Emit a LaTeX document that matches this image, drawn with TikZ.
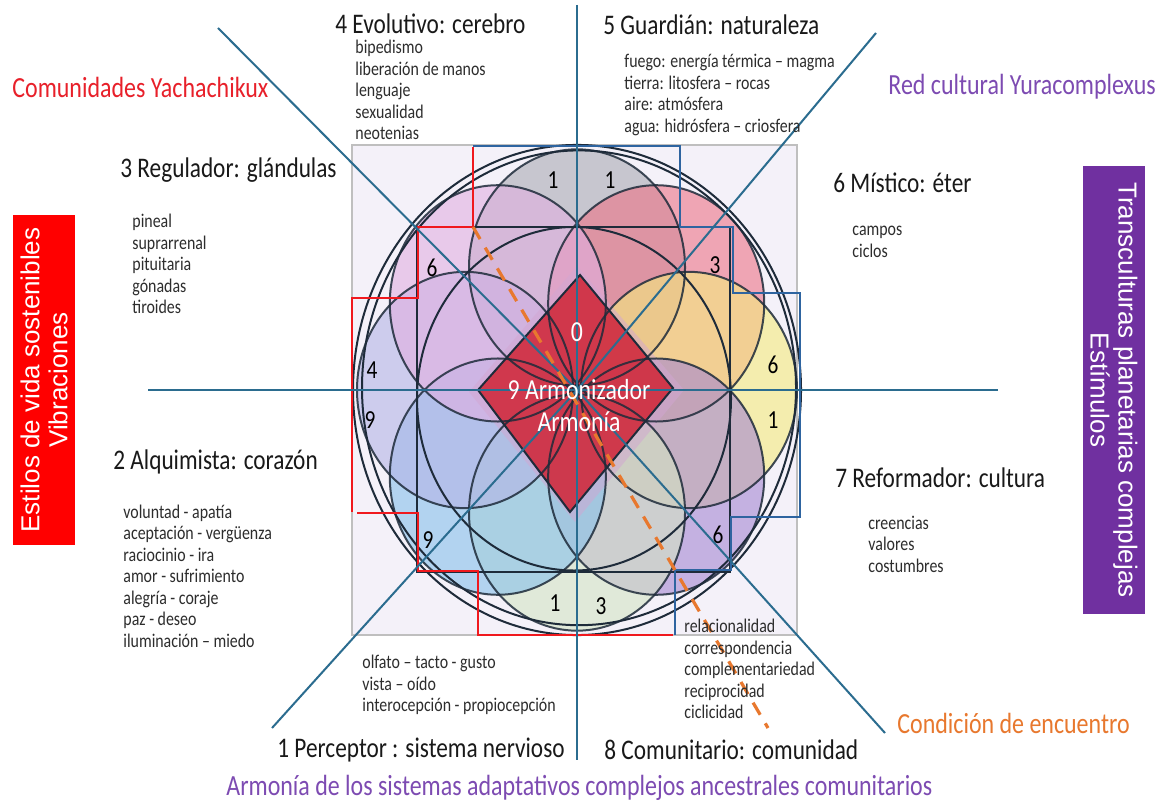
\documentclass[tikz,border=0pt]{standalone}
\usepackage{fontspec}
\setmainfont{Carlito}[FakeStretch=0.82]
\newfontfamily\boxfont{Liberation Sans}
\usepackage{xcolor}
\usepackage{tikz}
\usetikzlibrary{positioning, calc}
\definecolor{axiscolor}{RGB}{43,108,143}
\definecolor{ringcolor}{RGB}{30,43,58}
\definecolor{stairred}{RGB}{240,25,30}
\definecolor{stairblue}{RGB}{46,100,160}
\definecolor{labelred}{RGB}{232,32,42}
\definecolor{labelpurple}{RGB}{125,75,178}
\definecolor{boxpurple}{RGB}{112,48,160}
\definecolor{meetorange}{RGB}{232,120,46}
\definecolor{squarefill}{RGB}{244,241,249}
\definecolor{diamondred}{RGB}{208,40,58}
\definecolor{listgray}{RGB}{45,45,45}
\definecolor{petalN}{RGB}{170,170,180}
\definecolor{petalNE}{RGB}{236,115,135}
\definecolor{petalE}{RGB}{245,235,125}
\definecolor{petalSE}{RGB}{165,135,210}
\definecolor{petalS}{RGB}{212,228,196}
\definecolor{petalSW}{RGB}{135,192,235}
\definecolor{petalW}{RGB}{180,180,230}
\definecolor{petalNW}{RGB}{225,175,225}

\begin{document}
\begin{tikzpicture}[
        x=0.5pt, y=-0.5pt,
        title/.style={font=\fontsize{14.2}{16}\selectfont, text=black!90, anchor=west, inner sep=0pt},
        itemlist/.style={font=\fontsize{9.7}{10.75}\selectfont, text=listgray, align=left, anchor=west, inner sep=0pt},
        tag/.style={font=\fontsize{14.6}{16}\selectfont, anchor=west, inner sep=0pt},
        digit/.style={font=\fontsize{13}{15}\selectfont, inner sep=0pt},
        sidebox/.style={font=\boxfont\fontsize{13}{14}\selectfont, text=white, align=center, minimum height=31pt, inner sep=0pt},
        axis/.style={axiscolor, line width=1pt},
        ring/.style={ringcolor, line width=1pt}
    ]
        \useasboundingbox (0,0) rectangle (1159,801);
        \fill[white] (0,0) rectangle (1159,801);

        % Background square
        \filldraw[fill=squarefill, draw=black!25, line width=0.8pt] (352,145) rectangle (797,635);

        % Petals
        \begin{scope}[shift={(577,390)}, yscale=1.094]
            \foreach \ang/\col in {270/petalN, 315/petalNE, 0/petalE, 45/petalSE, 90/petalS, 135/petalSW, 180/petalW, 225/petalNW}
                \fill[\col, fill opacity=0.6] (\ang:112) circle (108);
        \end{scope}

        % Central diamond
        \fill[violet!35, fill opacity=0.5] (577,266) -- (684,390) -- (575,522) -- (469,392) -- cycle;
        \filldraw[fill=diamondred, fill opacity=0.88, draw=ringcolor, line width=1pt] (580,275) -- (673,388) -- (570,512) -- (478,390) -- cycle;

        % Ring outlines
        \begin{scope}[shift={(577,390)}, yscale=1.094]
            \foreach \ang in {0,45,...,315}
                \draw[ring, opacity=0.85] (\ang:112) circle (108);
            \draw[ring] (0,0) circle (224);
            \draw[ring] (2,-2) circle (217);
            \draw[ring] (-3,8) circle (157);
        \end{scope}
        \draw[ring] (417,227) rectangle (730,572);

        % Steps
        \draw[stairred, line width=1.2pt] (473,147) -- (473,227) -- (418,227) -- (418,298) -- (352,298) -- (352,512);
        \draw[stairred, line width=1.2pt] (357,513) -- (418,513) -- (418,571) -- (478,571) -- (478,635) -- (673,635);
        \draw[stairblue, line width=1.2pt] (473,146) -- (680,146) -- (680,227) -- (733,227) -- (733,293) -- (800,293) -- (800,517) -- (731,517) -- (731,570) -- (675,570) -- (675,635);

        % Axes
        \coordinate (ctr) at (577,390);
        \coordinate (westend) at (148,390);
        \coordinate (eastend) at (998,390);
        \coordinate (northend) at (577,5);
        \coordinate (southend) at (577,760);
        \coordinate (nwend) at (218,28);
        \coordinate (seend) at (885,733);
        \coordinate (neend) at (876,33);
        \coordinate (swend) at (272,728);
        \draw[axis] (westend) -- (eastend);
        \draw[axis] (northend) -- (southend);
        \draw[axis] (nwend) -- (ctr) -- (seend);
        \draw[axis] (neend) -- (ctr) -- (swend);

        % Meeting line
        \coordinate (meetstart) at (473,227);
        \coordinate (meetend) at (768,728);
        \draw[meetorange, line width=1.6pt, dash pattern=on 7pt off 5pt] (meetstart) -- (meetend);

        % Numbers
        \node[digit] (n1) at (553,180) {1};
        \node[digit] (n2) at (610,180) {1};
        \node[digit] (n3) at (432,268) {6};
        \node[digit] (n4) at (715,265) {3};
        \node[digit] (n5) at (372,370) {4};
        \node[digit] (n6) at (773,365) {6};
        \node[digit] (n7) at (370,420) {9};
        \node[digit] (n8) at (773,420) {1};
        \node[digit] (n9) at (428,540) {9};
        \node[digit] (n10) at (718,535) {6};
        \node[digit] (n11) at (555,603) {1};
        \node[digit] (n12) at (601,606) {3};
        \node[digit, text=white, font=\fontsize{14.5}{16}\selectfont] (zero) at (577,332) {0};
        \node[align=center, text=white, font=\fontsize{14.5}{16}\selectfont, inner sep=0pt] (harmony) at (579,406) {9 Armonizador\\Armonía};

        % Titles
        \node[title] (evo) at (335,24) {4 Evolutivo: cerebro};
        \node[title] (guard) at (603,25) {5 Guardián: naturaleza};
        \node[title] (regul) at (120,170) {3 Regulador: glándulas};
        \node[title] (mist) at (833,183) {6 Místico: éter};
        \node[title] (alq) at (113,462) {2 Alquimista: corazón};
        \node[title] (reform) at (835,478) {7 Reformador: cultura};
        \node[title] (percep) at (277,750) {1 Perceptor : sistema nervioso};
        \node[title] (comun) at (604,750) {8 Comunitario: comunidad};

        % Lists
        \node[itemlist] (evolist) at (355,90) {bipedismo\\liberación de manos\\lenguaje\\sexualidad\\neotenias};
        \node[itemlist] (guardlist) at (624,95) {fuego: energía térmica – magma\\tierra: litosfera – rocas\\aire: atmósfera\\agua: hidrósfera – criosfera};
        \node[itemlist] (regullist) at (132,264) {pineal\\suprarrenal\\pituitaria\\gónadas\\tiroides};
        \node[itemlist] (mistlist) at (852,242) {campos\\ciclos};
        \node[itemlist] (alqlist) at (123,576) {voluntad - apatía\\aceptación - vergüenza\\raciocinio - ira\\amor - sufrimiento\\alegría - coraje\\paz - deseo\\iluminación – miedo};
        \node[itemlist] (reformlist) at (868,544) {creencias\\valores\\costumbres};
        \node[itemlist] (perceplist) at (362,685) {olfato – tacto - gusto\\vista – oído\\interocepción - propiocepción};
        \node[itemlist] (comunlist) at (684,669) {relacionalidad\\correspondencia\\complementariedad\\reciprocidad\\ciclicidad};

        % Coloured labels
        \node[tag, text=labelred] (yacha) at (12,87) {Comunidades Yachachikux};
        \node[tag, text=labelpurple] (yura) at (888,87) {Red cultural Yuracomplexus};
        \node[tag, text=meetorange] (meet) at (897,723) {Condición de encuentro};
        \node[tag, text=labelpurple] (ancestral) at (226,788) {Armonía de los sistemas adaptativos complejos ancestrales comunitarios};

        % Side boxes
        \node[sidebox, fill=red, rotate=90, minimum width=165pt] (estilos) at (44,380) {Estilos de vida sostenibles\\Vibraciones};
        \node[sidebox, fill=boxpurple, rotate=-90, minimum width=224pt] (trans) at (1114,390) {Transculturas planetarias complejas\\Estímulos};
    \end{tikzpicture}
\end{document}
